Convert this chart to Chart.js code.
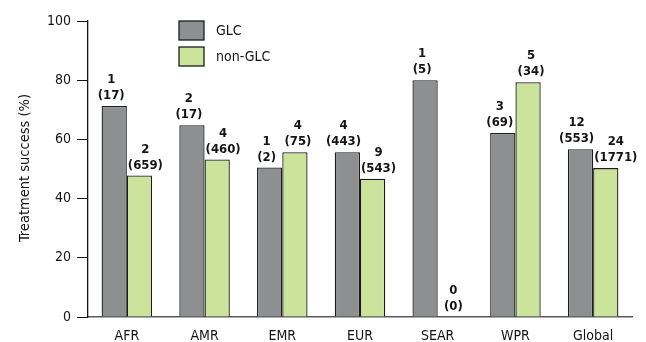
<!DOCTYPE html>
<html>
<head>
<meta charset="utf-8">
<style>
  html, body { margin: 0; padding: 0; background: #ffffff; }
  #wrap { width: 646px; height: 342px; position: relative; }
</style>
<script src="https://cdn.jsdelivr.net/npm/chart.js@4.4.1/dist/chart.umd.min.js"></script>
</head>
<body>
<div id="wrap"><canvas id="c" width="646" height="342"></canvas></div>
<script>
// WHO regions plus the global total
const regions = ['AFR', 'AMR', 'EMR', 'EUR', 'SEAR', 'WPR', 'Global'];

// Treatment success (%)
const glcSuccess    = [71.3, 64.8, 50.5, 55.7, 80.0, 62.2, 56.7];
const nonGlcSuccess = [47.8, 53.2, 55.7, 46.7, 0,    79.3, 50.3];

// Number of projects and (number of patients) shown above each bar
const glcProjects    = [1, 2, 1, 4, 1, 3, 12];
const glcPatients    = [17, 17, 2, 443, 5, 69, 553];
const nonGlcProjects = [2, 4, 4, 9, 0, 5, 24];
const nonGlcPatients = [659, 460, 75, 543, 0, 34, 1771];

const yTicks = [0, 20, 40, 60, 80, 100];

const FONT = "'DejaVu Sans Condensed', 'DejaVu Sans', sans-serif";
const GLC_COLOR = '#8e8f91';
const NON_GLC_COLOR = '#cce39c';
const EDGE = '#1c1c1c';
const INK = '#141414';

// Two-line "n / (N)" annotations over each bar
const barNotes = {
  id: 'barNotes',
  afterDatasetsDraw(chart) {
    const ctx = chart.ctx;
    ctx.save();
    ctx.font = 'bold 13px ' + FONT;
    ctx.fillStyle = INK;
    ctx.textAlign = 'center';
    ctx.textBaseline = 'alphabetic';
    const notes = [
      [glcProjects, glcPatients],
      [nonGlcProjects, nonGlcPatients]
    ];
    chart.data.datasets.forEach((ds, di) => {
      const meta = chart.getDatasetMeta(di);
      meta.data.forEach((bar, i) => {
        const l1 = String(notes[di][0][i]);
        const l2 = '(' + notes[di][1][i] + ')';
        const w = Math.max(ctx.measureText(l1).width, ctx.measureText(l2).width);
        const half = bar.width / 2;
        let cx;
        if (di === 0) {
          cx = Math.min(bar.x - 3, bar.x + half - w / 2 + 1);
        } else {
          cx = Math.max(bar.x + 3, bar.x - half + w / 2 + 1);
        }
        const base = Math.min(bar.y, bar.base) - 7;
        ctx.fillText(l2, cx, base);
        ctx.fillText(l1, cx, base - 16);
      });
    });
    ctx.restore();
  }
};

// Legend boxes placed inside the plot area, upper left
const boxLegend = {
  id: 'boxLegend',
  afterDraw(chart) {
    const ctx = chart.ctx;
    ctx.save();
    const items = chart.data.datasets;
    const x = 179, y0 = 21, step = 26, bw = 25, bh = 19;
    items.forEach((ds, i) => {
      const y = y0 + i * step;
      ctx.fillStyle = ds.backgroundColor;
      ctx.fillRect(x, y, bw, bh);
      ctx.lineWidth = 1.3;
      ctx.strokeStyle = EDGE;
      ctx.strokeRect(x, y, bw, bh);
      ctx.fillStyle = INK;
      ctx.font = '14px ' + FONT;
      ctx.textAlign = 'left';
      ctx.textBaseline = 'middle';
      ctx.fillText(ds.label, x + 37, y + bh / 2 + 1);
    });
    ctx.restore();
  }
};

// Rotated y-axis title
const yTitle = {
  id: 'yTitle',
  afterDraw(chart) {
    const ctx = chart.ctx;
    ctx.save();
    ctx.translate(25, 168);
    ctx.rotate(-Math.PI / 2);
    ctx.font = '14.5px ' + FONT;
    ctx.fillStyle = INK;
    ctx.textAlign = 'center';
    ctx.textBaseline = 'middle';
    ctx.fillText('Treatment success (%)', 0, 0);
    ctx.restore();
  }
};

new Chart(document.getElementById('c'), {
  type: 'bar',
  data: {
    labels: regions,
    datasets: [
      {
        label: 'GLC',
        data: glcSuccess,
        backgroundColor: GLC_COLOR,
        borderColor: EDGE,
        borderWidth: 1.3,
        borderSkipped: 'bottom'
      },
      {
        label: 'non-GLC',
        data: nonGlcSuccess,
        backgroundColor: NON_GLC_COLOR,
        borderColor: EDGE,
        borderWidth: 1.3,
        borderSkipped: 'bottom'
      }
    ]
  },
  options: {
    responsive: false,
    animation: false,
    devicePixelRatio: 1,
    layout: { padding: { top: 21, right: 14, bottom: 0, left: 0 } },
    datasets: {
      bar: { categoryPercentage: 0.65, barPercentage: 1.0 }
    },
    plugins: {
      legend: { display: false },
      tooltip: { enabled: false }
    },
    scales: {
      x: {
        grid: { display: false, drawTicks: false },
        border: { display: true, color: '#5a5a5a', width: 1.5 },
        ticks: {
          color: INK,
          font: { family: FONT, size: 14 },
          padding: 11,
          maxRotation: 0
        },
        afterFit(scale) { scale.height = 25; }
      },
      y: {
        min: 0,
        max: 100,
        afterBuildTicks(scale) {
          scale.ticks = yTicks.map(v => ({ value: v }));
        },
        grid: {
          drawOnChartArea: false,
          drawTicks: true,
          tickLength: 11,
          color: INK,
          lineWidth: 1
        },
        border: { display: true, color: INK, width: 1.3 },
        ticks: {
          color: INK,
          font: { family: FONT, size: 14 },
          padding: 6
        },
        afterFit(scale) { scale.width = 88; }
      }
    }
  },
  plugins: [barNotes, boxLegend, yTitle]
});
</script>
</body>
</html>
